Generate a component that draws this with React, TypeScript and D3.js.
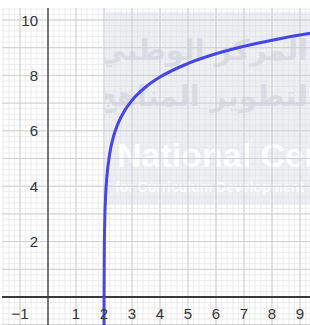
import React, { useEffect, useRef } from 'react';
import * as d3 from 'd3';

// points (x, y)
const curveX = [2.001, 2.003, 2.01, 2.03, 2.06, 2.1, 2.2, 2.35, 2.5, 2.75, 3, 3.5, 4, 5, 6, 7, 8, 9, 9.5];
const curveY = [-1.26, 0.07, 1.53, 2.86, 3.7, 4.31, 5.15, 5.83, 6.26, 6.75, 7.1, 7.59, 7.94, 8.43, 8.78, 9.05, 9.27, 9.46, 9.54];

const xTicks = [-1, 1, 2, 3, 4, 5, 6, 7, 8, 9];
const yTicks = [2, 4, 6, 8, 10];

const W = 310;
const H = 325;

export default function App() {
    const ref = useRef<SVGSVGElement>(null);

    useEffect(() => {
        document.body.style.margin = '0';
        const svg = d3.select(ref.current);
        svg.selectAll('*').remove();

        const left = 2, top = 8;

        // 28px per unit horizontally, origin at x=48
        const x = d3.scaleLinear().domain([-48 / 28, (W - 48) / 28]).range([0, W]);
        // 27.7px per unit vertically, origin at y=297
        const y = d3.scaleLinear().domain([(297 - H) / 27.7, 297 / 27.7]).range([H, 0]);

        svg.append('rect').attr('width', W).attr('height', H).attr('fill', '#fff');

        svg.append('clipPath').attr('id', 'plot')
            .append('rect').attr('x', left).attr('y', top).attr('width', W - left).attr('height', H - top);
        svg.append('clipPath').attr('id', 'wm')
            .append('rect').attr('x', 105).attr('y', 12).attr('width', 210).attr('height', 193);

        const g = svg.append('g').attr('clip-path', 'url(#plot)');

        // minor grid
        const minorX = d3.range(-1.8, 9.6, 0.2);
        const minorY = d3.range(-1.2, 11, 0.2);
        g.selectAll('.mx').data(minorX).join('line')
            .attr('x1', d => x(d)).attr('x2', d => x(d))
            .attr('y1', 0).attr('y2', H)
            .attr('stroke', '#ececec').attr('stroke-width', 1);
        g.selectAll('.my').data(minorY).join('line')
            .attr('y1', d => y(d)).attr('y2', d => y(d))
            .attr('x1', 0).attr('x2', W)
            .attr('stroke', '#ececec').attr('stroke-width', 1);

        // watermark
        const wm = g.append('g').attr('clip-path', 'url(#wm)');
        wm.append('rect')
            .attr('x', 105).attr('y', 12).attr('width', 210).attr('height', 193)
            .attr('fill', '#dfe1ea').attr('opacity', 0.55);
        wm.append('text')
            .attr('x', 308).attr('y', 60)
            .attr('text-anchor', 'end')
            .attr('font-family', 'DejaVu Sans')
            .attr('font-weight', 'bold')
            .attr('font-size', 29)
            .attr('fill', '#d3d5df').attr('opacity', 0.7)
            .text('المركز الوطني');
        wm.append('text')
            .attr('x', 308).attr('y', 106)
            .attr('text-anchor', 'end')
            .attr('font-family', 'DejaVu Sans')
            .attr('font-weight', 'bold')
            .attr('font-size', 29)
            .attr('fill', '#d3d5df').attr('opacity', 0.7)
            .text('لتطوير المناهج');
        wm.append('text')
            .attr('x', 117).attr('y', 167)
            .attr('font-family', 'Liberation Sans')
            .attr('font-weight', 'bold')
            .attr('font-size', 34)
            .attr('fill', '#ffffff').attr('opacity', 0.9)
            .text('National Center');
        wm.append('text')
            .attr('x', 115).attr('y', 192)
            .attr('font-family', 'Liberation Sans')
            .attr('font-weight', 'bold')
            .attr('font-size', 14)
            .attr('fill', '#ffffff').attr('opacity', 0.9)
            .text('for Curriculum Development');

        // major grid
        const majorX = d3.range(-1, 10, 1);
        const majorY = d3.range(-1, 11, 1);
        g.selectAll('.Mx').data(majorX).join('line')
            .attr('x1', d => x(d)).attr('x2', d => x(d))
            .attr('y1', 0).attr('y2', H)
            .attr('stroke', '#cfcfcf').attr('stroke-width', 1);
        g.selectAll('.My').data(majorY).join('line')
            .attr('y1', d => y(d)).attr('y2', d => y(d))
            .attr('x1', 0).attr('x2', W)
            .attr('stroke', '#cfcfcf').attr('stroke-width', 1);

        // axes
        g.append('line')
            .attr('x1', x(0)).attr('x2', x(0)).attr('y1', 0).attr('y2', H)
            .attr('stroke', '#5a5a5a').attr('stroke-width', 1.6);
        g.append('line')
            .attr('y1', y(0)).attr('y2', y(0)).attr('x1', 0).attr('x2', W)
            .attr('stroke', '#3a3a3a').attr('stroke-width', 2);

        // curve
        const pts: [number, number][] = curveX.map((d, i) => [d, curveY[i]]);
        const line = d3.line<[number, number]>()
            .x(d => x(d[0]))
            .y(d => y(d[1]))
            .curve(d3.curveMonotoneX);
        g.append('path')
            .attr('fill', 'none')
            .attr('stroke', '#4646e8')
            .attr('stroke-width', 3)
            .attr('d', line(pts));

        // tick labels
        const font = 'Liberation Sans, Arial, sans-serif';
        svg.append('g').selectAll('text').data(xTicks).join('text')
            .attr('x', d => x(d))
            .attr('y', 319)
            .attr('text-anchor', 'middle')
            .attr('font-family', font)
            .attr('font-size', 15)
            .attr('fill', '#333')
            .text(d => (d < 0 ? '\u2212' + Math.abs(d) : String(d)));
        svg.append('g').selectAll('text').data(yTicks).join('text')
            .attr('x', 38)
            .attr('y', d => y(d) + 5.5)
            .attr('text-anchor', 'end')
            .attr('font-family', font)
            .attr('font-size', 15)
            .attr('fill', '#333')
            .text(d => String(d));
    }, []);

    return <svg ref={ref} width={W} height={H} style={{ display: 'block' }} />;
}
